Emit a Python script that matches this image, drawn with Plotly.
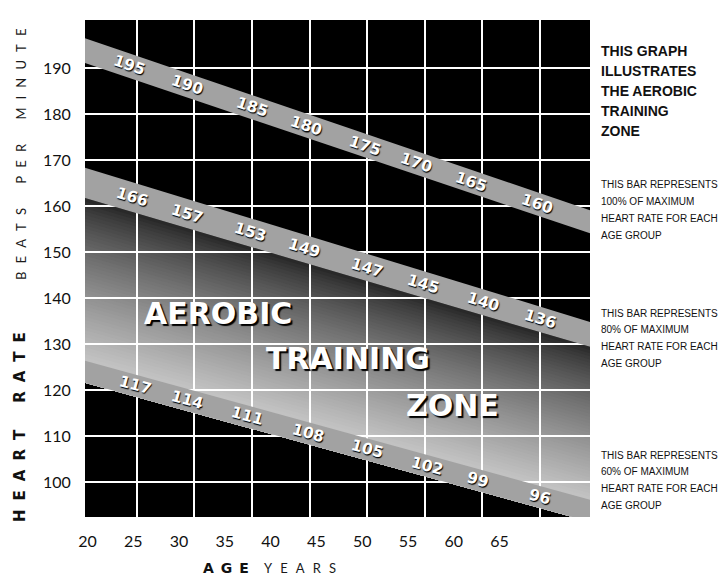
import math
import plotly.graph_objects as go

# ---------------- data ----------------
age_groups = [25, 30, 35, 40, 45, 50, 55, 60]
max_hr_labels = [195, 190, 185, 180, 175, 170, 165, 160]
hr80_labels = [166, 157, 153, 149, 147, 145, 140, 136]
hr60_labels = [117, 114, 111, 108, 105, 102, 99, 96]

# band edges (beats per minute) at ages 20 and 65
edge_ages = [20, 65]
max_upper = [196.9, 158.5]
max_lower = [191.5, 153.5]
hr80_upper = [168.7, 134.3]
hr80_lower = [162.1, 128.9]
hr60_upper = [126.7, 95.7]
hr60_lower = [121.9, 90.9]

x_tick_vals = [20, 25, 30, 35, 40, 45, 50, 55, 60, 65]
y_tick_vals = [100, 110, 120, 130, 140, 150, 160, 170, 180, 190]
grid_ages = [25, 30, 35, 40, 45, 50, 55, 60]

zone_words = ["AEROBIC", "TRAINING", "ZONE"]
headline = ["THIS GRAPH", "ILLUSTRATES", "THE AEROBIC", "TRAINING", "ZONE"]
note_100 = ["THIS BAR REPRESENTS", "100% OF MAXIMUM", "HEART RATE FOR EACH", "AGE GROUP"]
note_80 = ["THIS BAR REPRESENTS", "80% OF MAXIMUM", "HEART RATE FOR EACH", "AGE GROUP"]
note_60 = ["THIS BAR REPRESENTS", "60% OF MAXIMUM", "HEART RATE FOR EACH", "AGE GROUP"]

# ---------------- layout constants ----------------
W, H = 719, 576
ML, MR, MT, MB = 85, 129, 20, 59
PW, PH = W - ML - MR, H - MT - MB
X_RANGE = [20.51, 64.34]
Y_RANGE = [92.39, 200.43]
X2_RANGE = [19.73, 74.88]
SX = PW / (X_RANGE[1] - X_RANGE[0])
SY = PH / (Y_RANGE[1] - Y_RANGE[0])

def px_x(px):
    return (px - ML) / PW

def px_y(py):
    return (H - MB - py) / PH

def at(edge, age):
    return edge[0] + (edge[1] - edge[0]) * (age - edge_ages[0]) / (edge_ages[1] - edge_ages[0])

BAND_GRAY = "#a2a2a2"
LABEL_NUDGE = {
    "max": [-8, -7, 0, -3, -2, -8, -11, -3],
    "80": [-5, -7, -2, -6, 0, -2, 1, 0],
    "60": [-2, -7, -5, -2, 0, 2, -4, 0],
}

fig = go.Figure()

# aerobic zone gradient (strips between the 80% and 60% bars, below the grid)
shapes = []
N = 48
for i in range(N):
    t = i / N
    top = [hr80_lower[k] + (hr60_upper[k] - hr80_lower[k]) * t for k in range(2)]
    g = int(36 + 160 * ((i + 0.5) / N) ** 0.75)
    path = (f"M {edge_ages[0]},{top[0]} L {edge_ages[1]},{top[1]} "
            f"L {edge_ages[1]},{hr60_lower[1]} L {edge_ages[0]},{hr60_lower[0]} Z")
    shapes.append(dict(type="path", path=path, xref="x", yref="y",
                       fillcolor=f"rgb({g},{g},{g})", line=dict(width=0), layer="below"))

# bars
bands = [
    ("max", max_upper, max_lower, max_hr_labels),
    ("80", hr80_upper, hr80_lower, hr80_labels),
    ("60", hr60_upper, hr60_lower, hr60_labels),
]
annotations = []
for key, up, lo, labels in bands:
    fig.add_trace(go.Scatter(
        x=edge_ages + edge_ages[::-1],
        y=[up[0], up[1], lo[1], lo[0]],
        fill="toself", fillcolor=BAND_GRAY, mode="lines", line=dict(width=0),
        hoverinfo="skip", showlegend=False,
    ))
    c0 = (up[0] + lo[0]) / 2
    c1 = (up[1] + lo[1]) / 2
    slope = (c1 - c0) / (edge_ages[1] - edge_ages[0])
    ang = math.degrees(math.atan(-slope * SY / SX))
    for age, lab, nud in zip(age_groups, labels, LABEL_NUDGE[key]):
        cy = (at(up, age) + at(lo, age)) / 2
        annotations.append(dict(
            x=age, y=cy, xref="x", yref="y", text=str(lab), showarrow=False,
            xanchor="center", yanchor="middle",
            textangle=ang, xshift=nud, yshift=-nud * math.tan(math.radians(ang)),
            font=dict(family="DejaVu Sans", size=15.5, color="white", weight="bold",
                      shadow="1px 1px 1px #000"),
        ))

# invisible trace to carry the age tick-label axis
fig.add_trace(go.Scatter(x=x_tick_vals, y=[None] * len(x_tick_vals), xaxis="x2",
                         mode="markers", hoverinfo="skip", showlegend=False))

def paper_text(px, py, text, font, angle=0, xanchor="center"):
    return dict(x=px_x(px), y=px_y(py), xref="paper", yref="paper", text=text,
                showarrow=False, xanchor=xanchor, yanchor="middle", textangle=angle,
                font=font)

# zone words
word_pos = [(217.5, 313), (347.5, 358), (452, 405)]
for w, (px, py) in zip(zone_words, word_pos):
    annotations.append(paper_text(px, py, w, dict(
        family="DejaVu Sans", size=30, color="white", weight="bold",
        shadow="2px 2px 1px #000")))

# side notes (one annotation per line)
SIDE_FONT = "Liberation Sans, Arial, sans-serif"
for i, line in enumerate(headline):
    annotations.append(paper_text(599, 51 + 20 * i, line,
                                  dict(family=SIDE_FONT, size=14, color="#111", weight="bold"),
                                  xanchor="left"))
for note, y0 in [(note_100, 185), (note_80, 313), (note_60, 455)]:
    for i, line in enumerate(note):
        annotations.append(paper_text(599, y0 + 16.7 * i, line,
                                      dict(family=SIDE_FONT, size=10, color="#111"),
                                      xanchor="left"))

# axis titles (letter-spaced)
G_LIGHT = "\u2002\u2009"
G_BOLD = "\u2002\u200a"
def spaced(words, gap):
    return (gap * 3).join(gap.join(list(wd)) for wd in words)

annotations.append(paper_text(20, 427, spaced(["HEART", "RATE"], G_BOLD),
                              dict(family="DejaVu Sans", size=15, color="#111", weight="bold"),
                              angle=-90))
annotations.append(paper_text(21, 155, spaced(["BEATS", "PER", "MINUTE"], G_LIGHT),
                              dict(family="Lato", size=13, color="#1a1a1a", weight=400),
                              angle=-90))
annotations.append(paper_text(226, 568, spaced(["AGE"], "\u2002"),
                              dict(family="DejaVu Sans", size=14, color="#111", weight="bold")))
annotations.append(paper_text(300, 568, spaced(["YEARS"], G_LIGHT),
                              dict(family="Lato", size=13, color="#1a1a1a", weight=400)))

fig.update_layout(
    width=W, height=H,
    margin=dict(l=ML, r=MR, t=MT, b=MB, pad=0),
    paper_bgcolor="white", plot_bgcolor="black",
    showlegend=False,
    shapes=shapes,
    annotations=annotations,
    xaxis=dict(range=X_RANGE, tickmode="array", tickvals=grid_ages, showticklabels=False,
               showgrid=True, gridcolor="white", gridwidth=2, zeroline=False,
               showline=False, ticks=""),
    xaxis2=dict(range=X2_RANGE, overlaying="x", side="bottom", anchor="y",
                tickmode="array", tickvals=x_tick_vals, showgrid=False, zeroline=False,
                ticks="outside", ticklen=10, tickcolor="white",
                tickfont=dict(family="Lato", size=16, color="#111")),
    yaxis=dict(range=Y_RANGE, tickmode="array", tickvals=y_tick_vals,
               showgrid=True, gridcolor="white", gridwidth=2, zeroline=False,
               showline=False, ticks="outside", ticklen=10, tickcolor="white",
               tickfont=dict(family="Lato", size=16, color="#111")),
)

fig.write_html("out.html", config={"displayModeBar": False},
               post_script="document.body.style.margin='0';document.body.style.overflow='hidden';")
